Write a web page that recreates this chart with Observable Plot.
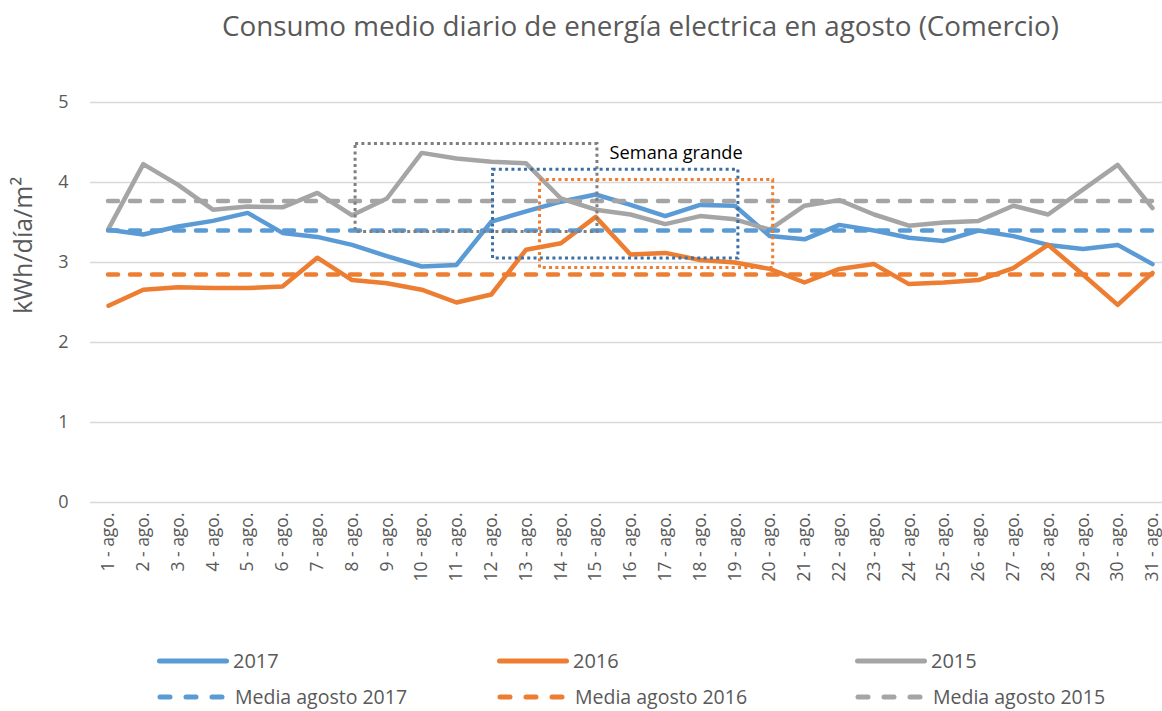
<!DOCTYPE html>
<html>
<head>
<meta charset="utf-8">
<script src="https://cdn.jsdelivr.net/npm/d3@7"></script>
<script src="https://cdn.jsdelivr.net/npm/@observablehq/plot@0.6"></script>
<style>
  html, body { margin: 0; padding: 0; background: #fff; overflow: hidden; }
  body { width: 1162px; height: 711px; font-family: "Open Sans", sans-serif; color: #595959; }
  #title { position: relative; height: 60px; }
  #title span { position: absolute; left: 222px; top: 6px; font-size: 27.8px; white-space: nowrap; color: #595959; }
  #chart { height: 570px; }
  #legend { position: relative; height: 81px; }
  .item { position: absolute; display: flex; align-items: center; font-size: 20px; color: #595959; white-space: nowrap; }
  .item svg { display: block; margin-right: 4px; }
</style>
</head>
<body>
<div id="title"><span>Consumo medio diario de energía electrica en agosto (Comercio)</span></div>
<div id="chart"></div>
<div id="legend"></div>
<script>
// ---- data ----
const days = [1,2,3,4,5,6,7,8,9,10,11,12,13,14,15,16,17,18,19,20,21,22,23,24,25,26,27,28,29,30,31];
const dayLabels = ["1 - ago.","2 - ago.","3 - ago.","4 - ago.","5 - ago.","6 - ago.","7 - ago.","8 - ago.","9 - ago.","10 - ago.",
  "11 - ago.","12 - ago.","13 - ago.","14 - ago.","15 - ago.","16 - ago.","17 - ago.","18 - ago.","19 - ago.","20 - ago.",
  "21 - ago.","22 - ago.","23 - ago.","24 - ago.","25 - ago.","26 - ago.","27 - ago.","28 - ago.","29 - ago.","30 - ago.","31 - ago."];
const seriesNames = ["2017", "2016", "2015"];
const values2017 = [3.41,3.35,3.45,3.52,3.62,3.37,3.32,3.22,3.08,2.95,2.97,3.51,3.64,3.76,3.85,3.72,3.58,3.72,3.71,3.33,3.29,3.47,3.40,3.31,3.27,3.40,3.33,3.22,3.17,3.22,2.98];
const values2016 = [2.46,2.66,2.69,2.68,2.68,2.70,3.06,2.78,2.74,2.66,2.50,2.60,3.16,3.24,3.57,3.10,3.12,3.03,3.00,2.92,2.75,2.92,2.98,2.73,2.75,2.78,2.93,3.22,2.85,2.47,2.87];
const values2015 = [3.42,4.23,3.97,3.66,3.70,3.69,3.87,3.59,3.80,4.37,4.30,4.26,4.24,3.80,3.66,3.60,3.48,3.58,3.54,3.41,3.71,3.78,3.60,3.46,3.50,3.52,3.71,3.60,3.91,4.22,3.68];
const meanNames = ["Media agosto 2017", "Media agosto 2016", "Media agosto 2015"];
const meanValues = [3.40, 2.85, 3.77];
const yTicks = [0, 1, 2, 3, 4, 5];
const yLabel = "kWh/día/m²";
// "Semana grande" highlight boxes (day range, value range)
const boxNames = ["2015", "2017", "2016"];
const boxDayStart = [8.1, 12.05, 13.4];
const boxDayEnd = [15.05, 19.1, 20.1];
const boxLow = [3.38, 3.05, 2.93];
const boxHigh = [4.48, 4.16, 4.03];
const annotationText = "Semana grande";
const annotationDay = 15.4;
const annotationValue = 4.37;

// ---- styles ----
const lineColors = {"2017": "#5B9BD5", "2016": "#ED7D31", "2015": "#A5A5A5"};
const boxColors = {"2015": "#7F7F7F", "2017": "#3B6FA6", "2016": "#ED7D31"};

const seriesValues = [values2017, values2016, values2015];
const lineData = seriesNames.flatMap((s, i) => days.map((d, j) => ({series: s, day: d, value: seriesValues[i][j]})));
const meanData = seriesNames.map((s, i) => ({series: s, name: meanNames[i], value: meanValues[i], x1: days[0], x2: days[days.length - 1]}));
const boxData = boxNames.map((s, i) => ({series: s, x1: boxDayStart[i], x2: boxDayEnd[i], y1: boxLow[i], y2: boxHigh[i]}));

const plot = Plot.plot({
  width: 1162,
  height: 570,
  marginTop: 42,
  marginBottom: 128,
  marginLeft: 90,
  marginRight: 0,
  style: {fontFamily: "Open Sans, sans-serif", color: "#595959", background: "white", overflow: "visible"},
  x: {type: "linear", domain: [1, 31], range: [108, 1152]},
  y: {domain: [0, 5], range: [442, 42]},
  marks: [
    Plot.ruleY(yTicks, {stroke: "#D9D9D9", strokeWidth: 1.3}),
    Plot.axisY({ticks: yTicks, tickFormat: d => String(d), tickSize: 0, tickPadding: 22, fontSize: 18, label: null}),
    Plot.axisX({ticks: days, tickFormat: d => dayLabels[d - 1], tickRotate: -90, tickSize: 0, tickPadding: 10, fontSize: 17.5, label: null}),
    Plot.text([yLabel], {frameAnchor: "left", dx: -67, dy: -57, rotate: -90, textAnchor: "middle", fontSize: 25, fill: "#595959"}),
    ...seriesNames.map(s => Plot.line(lineData.filter(d => d.series === s), {
      x: "day", y: "value", stroke: lineColors[s], strokeWidth: 4.5, strokeLinecap: "round", strokeLinejoin: "round"
    })),
    ...meanData.map(m => Plot.ruleY([m], {
      y: "value", x1: "x1", x2: "x2", stroke: lineColors[m.series], strokeWidth: 4.5, strokeDasharray: "10,12", strokeLinecap: "round"
    })),
    ...boxData.map(b => Plot.rect([b], {
      x1: "x1", x2: "x2", y1: "y1", y2: "y2", fill: "none", stroke: boxColors[b.series], strokeWidth: 3, strokeDasharray: "3,3.3"
    })),
    Plot.text([{t: annotationText, x: annotationDay, y: annotationValue}], {
      x: "x", y: "y", text: "t", textAnchor: "start", fontSize: 18.2, fill: "#000"
    })
  ]
});
document.getElementById("chart").appendChild(plot);

// ---- legend ----
const legend = document.getElementById("legend");
const colLeft = [157, 497, 855];
function swatch(color, dashed) {
  const ns = "http://www.w3.org/2000/svg";
  const svg = document.createElementNS(ns, "svg");
  svg.setAttribute("width", dashed ? 68 : 72); svg.setAttribute("height", 10);
  const l = document.createElementNS(ns, "line");
  l.setAttribute("x1", dashed ? 3 : 2.5); l.setAttribute("x2", dashed ? 66 : 69.5);
  l.setAttribute("y1", 5); l.setAttribute("y2", 5);
  l.setAttribute("stroke", color); l.setAttribute("stroke-width", 5);
  l.setAttribute("stroke-linecap", "round");
  if (dashed) l.setAttribute("stroke-dasharray", "10,16");
  svg.appendChild(l);
  return svg;
}
seriesNames.forEach((s, i) => {
  const d1 = document.createElement("div");
  d1.className = "item"; d1.style.left = (colLeft[i]) + "px"; d1.style.top = "17px";
  d1.appendChild(swatch(lineColors[s], false));
  const t1 = document.createElement("span"); t1.textContent = s; d1.appendChild(t1);
  legend.appendChild(d1);
  const d2 = document.createElement("div");
  d2.className = "item"; d2.style.left = (colLeft[i]) + "px"; d2.style.top = "53px";
  d2.appendChild(swatch(lineColors[s], true));
  const t2 = document.createElement("span"); t2.textContent = meanNames[i]; t2.style.marginLeft = "6px"; t2.style.fontSize = "19.5px"; d2.appendChild(t2);
  legend.appendChild(d2);
});
</script>
</body>
</html>
